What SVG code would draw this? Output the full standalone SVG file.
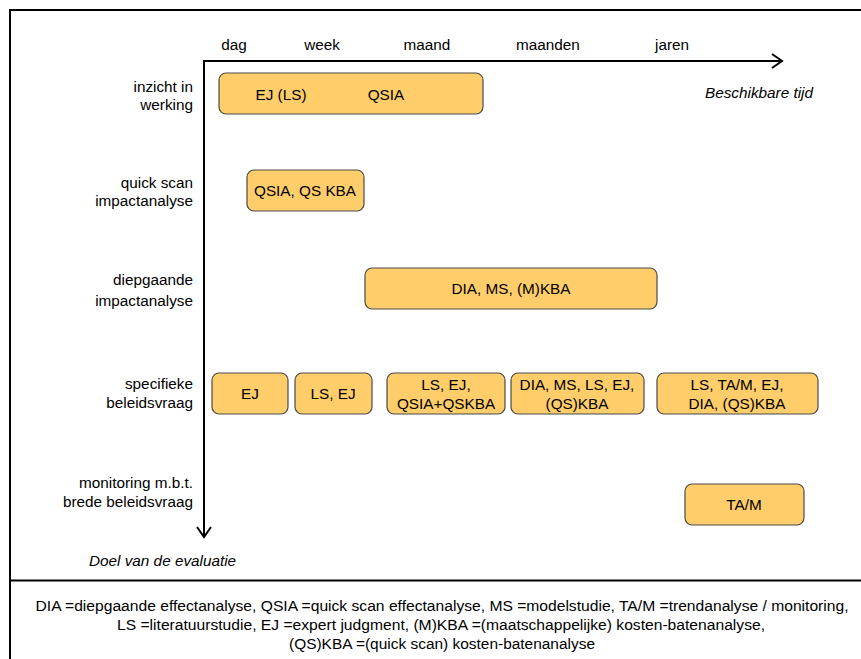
<svg xmlns="http://www.w3.org/2000/svg" width="861" height="659" viewBox="0 0 861 659">
<defs>
<style>
text{font-family:"Liberation Sans",Arial,sans-serif;font-size:15.3px;fill:#000}
.lbl{text-anchor:end}
.top{text-anchor:middle}
.it{font-style:italic}
.box rect{fill:#FFCD6A;stroke:#4a4a4a;stroke-width:1.2}
.box text{text-anchor:middle}
.leg{text-anchor:middle;font-size:15.5px}
.ax{stroke:#000;stroke-width:2;fill:none}
</style>
</defs>
<rect x="0" y="0" width="861" height="659" fill="#fff"/>
<g id="frame">
<path d="M10,660 V10 H862" fill="none" stroke="#000" stroke-width="2"/>
<line x1="9" y1="580.5" x2="862" y2="580.5" stroke="#000" stroke-width="2"/>
</g>
<g id="connectors">
<path class="ax" d="M204,61 H781"/>
<path class="ax" d="M772,54 L782,61 L772,68"/>
<path class="ax" d="M204,60 V536"/>
<path class="ax" d="M197,527 L204,537 L211,527"/>
</g>
<g id="axis-labels">
<text class="top" x="234" y="50">dag</text>
<text class="top" x="322" y="50">week</text>
<text class="top" x="427" y="50">maand</text>
<text class="top" x="548" y="50">maanden</text>
<text class="top" x="672" y="50">jaren</text>
<text class="it" x="705" y="98">Beschikbare tijd</text>
<text class="it" x="89" y="566">Doel van de evaluatie</text>
</g>
<g id="row-labels">
<text class="lbl" x="193" y="92">inzicht in</text>
<text class="lbl" x="193" y="110">werking</text>
<text class="lbl" x="193" y="188">quick scan</text>
<text class="lbl" x="193" y="206">impactanalyse</text>
<text class="lbl" x="193" y="285">diepgaande</text>
<text class="lbl" x="193" y="306">impactanalyse</text>
<text class="lbl" x="193" y="389">specifieke</text>
<text class="lbl" x="193" y="408">beleidsvraag</text>
<text class="lbl" x="193" y="488">monitoring m.b.t.</text>
<text class="lbl" x="193" y="507">brede beleidsvraag</text>
</g>
<g id="n-inzicht" class="box">
<rect x="219" y="73" width="264" height="41" rx="7"/>
<text x="281" y="100">EJ (LS)</text>
<text x="386" y="100">QSIA</text>
</g>
<g id="n-quickscan" class="box">
<rect x="247" y="170" width="117" height="41" rx="7"/>
<text x="305" y="196">QSIA, QS KBA</text>
</g>
<g id="n-diepgaande" class="box">
<rect x="365" y="268" width="292" height="41" rx="7"/>
<text x="511" y="294">DIA, MS, (M)KBA</text>
</g>
<g id="n-spec1" class="box">
<rect x="212" y="373" width="76" height="41" rx="7"/>
<text x="250" y="399">EJ</text>
</g>
<g id="n-spec2" class="box">
<rect x="295" y="373" width="77" height="41" rx="7"/>
<text x="333" y="399">LS, EJ</text>
</g>
<g id="n-spec3" class="box">
<rect x="387" y="373" width="118" height="41" rx="7"/>
<text x="446" y="390">LS, EJ,</text>
<text x="446" y="409">QSIA+QSKBA</text>
</g>
<g id="n-spec4" class="box">
<rect x="511" y="373" width="133" height="41" rx="7"/>
<text x="577" y="390">DIA, MS, LS, EJ,</text>
<text x="577" y="409">(QS)KBA</text>
</g>
<g id="n-spec5" class="box">
<rect x="657" y="373" width="161" height="41" rx="7"/>
<text x="737" y="390">LS, TA/M, EJ,</text>
<text x="737" y="409">DIA, (QS)KBA</text>
</g>
<g id="n-monitoring" class="box">
<rect x="685" y="484" width="119" height="41" rx="7"/>
<text x="744" y="510">TA/M</text>
</g>
<g id="legend">
<text class="leg" x="442" y="611" textLength="813" lengthAdjust="spacingAndGlyphs">DIA =diepgaande effectanalyse, QSIA =quick scan effectanalyse, MS =modelstudie, TA/M =trendanalyse / monitoring,</text>
<text class="leg" x="441" y="630" textLength="648" lengthAdjust="spacingAndGlyphs">LS =literatuurstudie, EJ =expert judgment, (M)KBA =(maatschappelijke) kosten-batenanalyse,</text>
<text class="leg" x="442" y="649" textLength="306" lengthAdjust="spacingAndGlyphs">(QS)KBA =(quick scan) kosten-batenanalyse</text>
</g>
</svg>
